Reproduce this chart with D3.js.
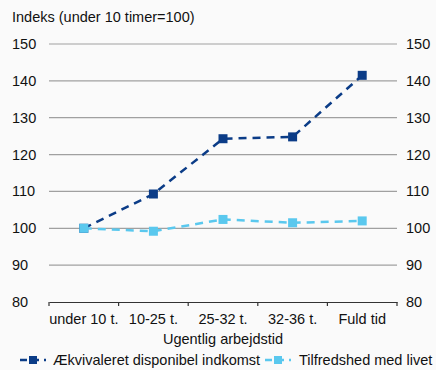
<!DOCTYPE html>
<html><head><meta charset="utf-8">
<script src="https://cdn.jsdelivr.net/npm/d3@7"></script>
<style>body{margin:0;background:#fafafa}svg{display:block}text{font-family:"Liberation Sans",Arial,sans-serif;fill:#111}</style>
</head><body><svg id="c" width="436" height="370"></svg>
<script>
const categories=["under 10 t.","10-25 t.","25-32 t.","32-36 t.","Fuld tid"];
const income=[100,109.3,124.3,124.8,141.5];
const satisfaction=[100,99.2,102.4,101.5,102.0];
const yTicks=[80,90,100,110,120,130,140,150];
const seriesNames=["Ækvivaleret disponibel indkomst","Tilfredshed med livet"];
const colors=["#0b3c87","#5ac8ee"];

const svg=d3.select("#c");
svg.append("rect").attr("width",436).attr("height",370).attr("fill","#fafafa");
const L=49,R=397,T=44,B=302;
const x=d3.scaleBand().domain(categories).range([L,R]);
const y=d3.scaleLinear().domain([80,150]).range([B,T]);

svg.append("text").attr("x",12).attr("y",22).attr("font-size",14.5).text("Indeks (under 10 timer=100)");
svg.append("g").selectAll("line").data(yTicks.filter(d=>d>80)).join("line")
 .attr("x1",L).attr("x2",R).attr("y1",d=>y(d)).attr("y2",d=>y(d)).attr("stroke","#a0a0a0").attr("stroke-width",1.2);
svg.append("g").selectAll("text").data(yTicks).join("text").attr("x",12).attr("y",d=>y(d)+5).attr("font-size",14.5).text(d=>d);
svg.append("g").selectAll("text").data(yTicks).join("text").attr("x",406).attr("y",d=>y(d)+5).attr("font-size",14.5).text(d=>d);

const xa=svg.append("g").attr("transform",`translate(0,${B})`).call(d3.axisBottom(x).tickSize(0).tickPadding(12));
xa.select(".domain").attr("stroke","#333").attr("stroke-width",1.2);
xa.selectAll("text").attr("font-size",14.5).attr("font-family","Liberation Sans, Arial, sans-serif").attr("fill","#111");
const bounds=[...categories.map(c=>x(c)),R];
svg.append("g").selectAll("line").data(bounds).join("line").attr("x1",d=>d).attr("x2",d=>d).attr("y1",B).attr("y2",B+4).attr("stroke","#333").attr("stroke-width",1.2);
svg.append("text").attr("x",(L+R)/2).attr("y",344).attr("text-anchor","middle").attr("font-size",14.5).text("Ugentlig arbejdstid");

const cx=c=>x(c)+x.bandwidth()/2;
[income,satisfaction].forEach((vals,i)=>{
  const line=d3.line().x((d,j)=>cx(categories[j])).y(d=>y(d));
  svg.append("path").datum(vals).attr("d",line).attr("fill","none").attr("stroke",colors[i]).attr("stroke-width",2.5).attr("stroke-dasharray","8,6");
  svg.append("g").selectAll("rect").data(vals).join("rect")
   .attr("x",(d,j)=>cx(categories[j])-4.5).attr("y",d=>y(d)-4.5).attr("width",9).attr("height",9).attr("fill",colors[i]);
});

// legend
const lg=[{x:20,tx:53},{x:265,tx:299}];
seriesNames.forEach((n,i)=>{
  const g=svg.append("g");
  g.append("line").attr("x1",lg[i].x).attr("x2",lg[i].x+26).attr("y1",360).attr("y2",360).attr("stroke",colors[i]).attr("stroke-width",2.5).attr("stroke-dasharray","7,5");
  g.append("rect").attr("x",lg[i].x+9).attr("y",356).attr("width",8).attr("height",8).attr("fill",colors[i]);
  g.append("text").attr("x",lg[i].tx).attr("y",365).attr("font-size",14.5).text(n);
});
</script></body></html>
